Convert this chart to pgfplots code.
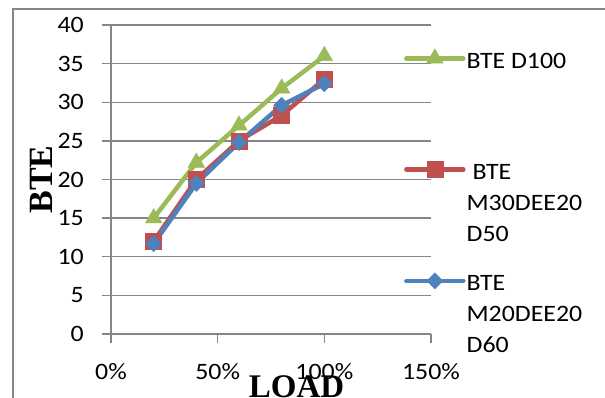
\documentclass[border=0pt]{standalone}
\usepackage{fontspec}
\setmainfont{Carlito}[FakeStretch=1.1]
\newfontfamily\lblfont{Liberation Serif}
\usepackage{pgfplots}
\pgfplotsset{compat=1.18}
\definecolor{cgreen}{HTML}{9BBB59}
\definecolor{cred}{HTML}{C0504D}
\definecolor{cblue}{HTML}{4F81BD}
\definecolor{cgrid}{HTML}{868686}
\begin{document}
\begin{tikzpicture}
\begin{axis}[
  at={(111bp,64bp)}, anchor=south west,
  scale only axis, width=320bp, height=309bp,
  xmin=0, xmax=150, ymin=0, ymax=40,
  xtick={0,50,100,150}, xticklabels={0\%,50\%,100\%,150\%},
  ytick={0,5,...,40},
  axis x line*=bottom, axis y line*=left,
  axis line style={cgrid, line width=1.3bp, -},
  ymajorgrids, grid style={cgrid, line width=1.3bp},
  tick style={cgrid, line width=1.3bp},
  tick align=outside, major tick length=9bp,
  /pgf/number format/assume math mode=true,
  tick label style={font=\fontsize{23.5bp}{28bp}\selectfont, inner sep=0pt},
  yticklabel style={anchor=east, xshift=-18bp},
  xticklabel style={anchor=north, yshift=-20bp},
  xlabel={\lblfont\bfseries LOAD},
  xlabel style={at={(axis description cs:0.58,-0.1327)}, anchor=north, inner sep=0pt, font=\fontsize{33bp}{36bp}\selectfont},
  ylabel={\lblfont\bfseries BTE},
  ylabel style={at={(axis description cs:-0.181,0.5)}, anchor=south, inner sep=0pt, font=\fontsize{34bp}{36bp}\selectfont},
  legend cell align=left,
  legend style={at={(axis cs:137.3,37.2)}, anchor=north west, draw=none, fill=none, inner sep=0pt, row sep=88bp, column sep=0pt, font=\fontsize{23.5bp}{31bp}\selectfont, nodes={inner sep=0pt}},
  legend image code/.code={\draw[mark repeat=2, mark phase=2, line cap=round, #1] plot coordinates {(0bp,0bp)(28.5bp,0bp)(57bp,0bp)};},
  every axis plot/.append style={line width=4.5bp},
]
\addplot[cgreen, mark=triangle*, mark size=9.5bp, mark options={solid, line width=0.5bp}] coordinates {(20,15)(40,22.2)(60,27)(80,31.8)(100,36)};
\addlegendentry{{\hspace{1bp}\begin{tabular}[t]{@{}l@{}}BTE D100\end{tabular}}}
\addplot[cred, mark=square*, mark size=8bp, mark options={solid, line width=0.5bp}] coordinates {(20,12)(40,20)(60,25)(80,28.3)(100,33)};
\addlegendentry{{\hspace{1bp}\begin{tabular}[t]{@{}l@{}}\hspace{6bp}BTE\\M30DEE20\\D50\end{tabular}}}
\addplot[cblue, mark=square*, mark size=5.7bp, mark options={solid, rotate=45, line width=0.5bp}] coordinates {(20,11.7)(40,19.5)(60,24.8)(80,29.6)(100,32.4)};
\addlegendentry{{\hspace{1bp}\begin{tabular}[t]{@{}l@{}}BTE\\M20DEE20\\D60\end{tabular}}}
\end{axis}
\pgfresetboundingbox
\useasboundingbox (0,0) rectangle (605bp,398bp);
\draw[cgrid, line width=1.3bp] (13bp,-5bp) -- (13bp,389bp) -- (615bp,389bp);
\end{tikzpicture}
\end{document}
